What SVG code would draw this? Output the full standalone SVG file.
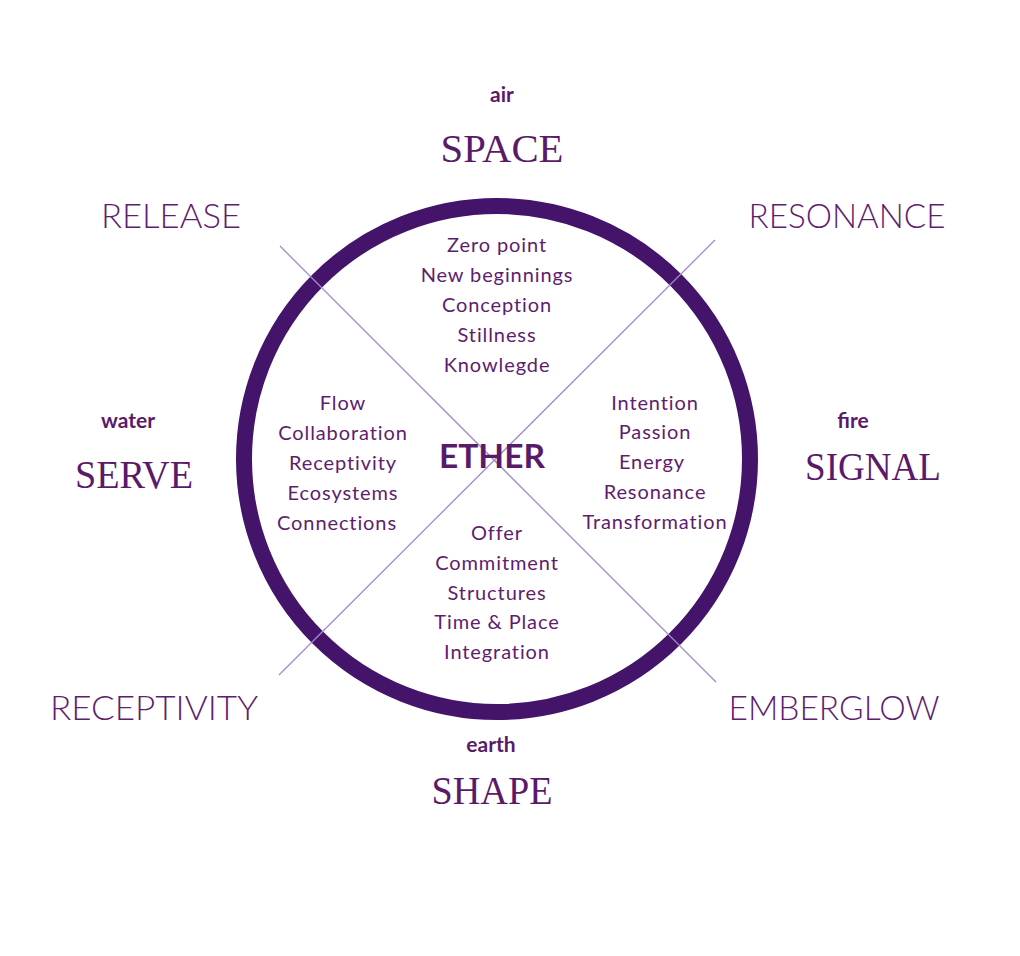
<svg xmlns="http://www.w3.org/2000/svg" width="1020" height="956" viewBox="0 0 1020 956">
<style>
.body{font-family:Lato,"Noto Sans","Liberation Sans",sans-serif;font-size:20px;fill:#5e1d6e;text-anchor:middle;font-weight:400;letter-spacing:0.9px}
.el{font-family:Lato,"Noto Sans","Liberation Sans",sans-serif;font-size:21px;font-weight:700;fill:#5a1a6a;text-anchor:middle}
.big{font-family:"Liberation Serif","DejaVu Serif",serif;font-size:40px;fill:#5a1a6a;text-anchor:middle}
.dir{font-family:Lato,"Noto Sans","Liberation Sans",sans-serif;font-size:33px;font-weight:300;fill:#5e1d6e;text-anchor:middle}
.ln{stroke:#a38bc6;stroke-width:1.3;fill:none}
</style>
<rect width="1020" height="956" fill="#ffffff"/>
<g id="wheel">
<circle cx="497" cy="459" r="253" fill="none" stroke="#44146a" stroke-width="16"/>
</g>
<g id="connectors">
<line class="ln" x1="280" y1="246" x2="716" y2="682"/>
<line class="ln" x1="715" y1="240" x2="279" y2="675"/>
</g>
<g id="center"><text class="el" x="492" y="468" style="font-size:33px" textLength="106" lengthAdjust="spacingAndGlyphs">ETHER</text></g>
<g id="air">
<text class="el" x="502" y="102">air</text>
<text class="big" x="502" y="162" textLength="123" lengthAdjust="spacingAndGlyphs">SPACE</text>
</g>
<g id="water">
<text class="el" x="128" y="428">water</text>
<text class="big" x="134" y="488" textLength="118" lengthAdjust="spacingAndGlyphs">SERVE</text>
</g>
<g id="fire">
<text class="el" x="853" y="428">fire</text>
<text class="big" x="873" y="480" textLength="136" lengthAdjust="spacingAndGlyphs">SIGNAL</text>
</g>
<g id="earth">
<text class="el" x="491" y="752">earth</text>
<text class="big" x="492" y="804" textLength="121" lengthAdjust="spacingAndGlyphs">SHAPE</text>
</g>
<g id="release"><text class="dir" x="171" y="228" textLength="140" lengthAdjust="spacingAndGlyphs">RELEASE</text></g>
<g id="resonance"><text class="dir" x="847" y="228" textLength="197" lengthAdjust="spacingAndGlyphs">RESONANCE</text></g>
<g id="receptivity"><text class="dir" x="154" y="720" textLength="208" lengthAdjust="spacingAndGlyphs">RECEPTIVITY</text></g>
<g id="emberglow"><text class="dir" x="834" y="720" textLength="211" lengthAdjust="spacingAndGlyphs">EMBERGLOW</text></g>
<g id="top-quadrant">
<text class="body" x="497" y="252">Zero point</text>
<text class="body" x="497" y="282">New beginnings</text>
<text class="body" x="497" y="312">Conception</text>
<text class="body" x="497" y="342">Stillness</text>
<text class="body" x="497" y="372">Knowlegde</text>
</g>
<g id="left-quadrant">
<text class="body" x="343" y="410">Flow</text>
<text class="body" x="343" y="440">Collaboration</text>
<text class="body" x="343" y="470">Receptivity</text>
<text class="body" x="343" y="500">Ecosystems</text>
<text class="body" x="337" y="530">Connections</text>
</g>
<g id="right-quadrant">
<text class="body" x="655" y="410">Intention</text>
<text class="body" x="655" y="439">Passion</text>
<text class="body" x="652" y="469">Energy</text>
<text class="body" x="655" y="499">Resonance</text>
<text class="body" x="655" y="529">Transformation</text>
</g>
<g id="bottom-quadrant">
<text class="body" x="497" y="540">Offer</text>
<text class="body" x="497" y="570">Commitment</text>
<text class="body" x="497" y="600">Structures</text>
<text class="body" x="497" y="629">Time &amp; Place</text>
<text class="body" x="497" y="659">Integration</text>
</g>
</svg>
